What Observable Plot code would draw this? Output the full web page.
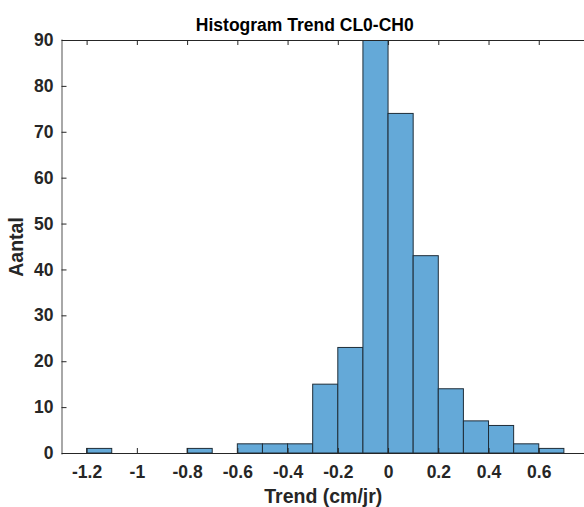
<!DOCTYPE html>
<html>
<head>
<meta charset="utf-8">
<script src="https://cdn.jsdelivr.net/npm/d3@7"></script>
<script src="https://cdn.jsdelivr.net/npm/@observablehq/plot@0.6"></script>
<style>
  html, body { margin: 0; padding: 0; background: #fff; }
  svg { display: block; }
</style>
</head>
<body>
<div id="chart"></div>
<script>
// Bin edges (left edges) and counts
const binStart = [-1.2, -1.1, -1.0, -0.9, -0.8, -0.7, -0.6, -0.5, -0.4, -0.3, -0.2, -0.1, 0.0, 0.1, 0.2, 0.3, 0.4, 0.5, 0.6];
const binEnd   = [-1.1, -1.0, -0.9, -0.8, -0.7, -0.6, -0.5, -0.4, -0.3, -0.2, -0.1, 0.0, 0.1, 0.2, 0.3, 0.4, 0.5, 0.6, 0.7];
const counts   = [1, 0, 0, 0, 1, 0, 2, 2, 2, 15, 23, 95, 74, 43, 14, 7, 6, 2, 1];
const xTicks = [-1.2, -1, -0.8, -0.6, -0.4, -0.2, 0, 0.2, 0.4, 0.6];
const xTickLabels = ["-1.2", "-1", "-0.8", "-0.6", "-0.4", "-0.2", "0", "0.2", "0.4", "0.6"];
const yTicks = [0, 10, 20, 30, 40, 50, 60, 70, 80, 90];
const titleText = "Histogram Trend CL0-CH0";
const xLabel = "Trend (cm/jr)";
const yLabel = "Aantal";

const bins = binStart.map((s, i) => ({x1: s, x2: binEnd[i], y: counts[i]})).filter(d => d.y > 0);

const font = "'Liberation Sans', Arial, Helvetica, sans-serif";
const dark = "#262626";

const W = 584, H = 507, mL = 61.5, mR = -5, mT = 40, mB = 54;
const innerW = W - mL - mR, innerH = H - mT - mB, tick = 5;

const chart = Plot.plot({
  width: W,
  height: H,
  marginLeft: mL,
  marginRight: mR,
  marginTop: mT,
  marginBottom: mB,
  style: {fontFamily: font, background: "#fff", overflow: "hidden"},
  x: {domain: [-1.3, 0.8], axis: null},
  y: {domain: [0, 90], axis: null},
  marks: [
    Plot.rectY(bins, {x1: "x1", x2: "x2", y: "y", fill: "#64a9d8", stroke: "#1f2d38", strokeWidth: 1, clip: true}),
    // box
    Plot.frame({anchor: "top", stroke: dark, strokeWidth: 1}),
    Plot.frame({anchor: "bottom", stroke: dark, strokeWidth: 1}),
    Plot.frame({anchor: "right", stroke: dark, strokeWidth: 1}),
    Plot.frame({anchor: "left", stroke: "#a8a8a8", strokeWidth: 2}),
    // inward ticks
    Plot.ruleX(xTicks, {x: d => d, insetTop: innerH - tick, stroke: dark}),
    Plot.ruleX(xTicks, {x: d => d, insetBottom: innerH - tick, stroke: dark}),
    Plot.ruleY(yTicks, {y: d => d, insetRight: innerW - tick, stroke: dark}),
    Plot.ruleY(yTicks, {y: d => d, insetLeft: innerW - tick, stroke: dark}),
    // tick labels
    Plot.text(xTicks, {x: d => d, text: (d, i) => xTickLabels[i], frameAnchor: "bottom", lineAnchor: "middle", textAnchor: "middle", dy: 19, fontSize: 17.5, fontWeight: "bold", fill: dark}),
    Plot.text(yTicks, {y: d => d, text: d => String(d), frameAnchor: "left", lineAnchor: "middle", textAnchor: "end", dx: -8.5, fontSize: 17.5, fontWeight: "bold", fill: dark}),
    // titles
    Plot.text([titleText], {frameAnchor: "top", lineAnchor: "middle", textAnchor: "middle", dx: -21, dy: -15, fontSize: 17.5, fontWeight: "bold", fill: "#000"}),
    Plot.text([xLabel], {frameAnchor: "bottom", lineAnchor: "middle", textAnchor: "middle", dx: -2.5, dy: 43, fontSize: 19.5, fontWeight: "bold", fill: dark}),
    Plot.text([yLabel], {frameAnchor: "left", lineAnchor: "middle", textAnchor: "middle", dx: -45, rotate: -90, fontSize: 19.5, fontWeight: "bold", fill: dark})
  ]
});
document.getElementById("chart").appendChild(chart);
</script>
</body>
</html>
